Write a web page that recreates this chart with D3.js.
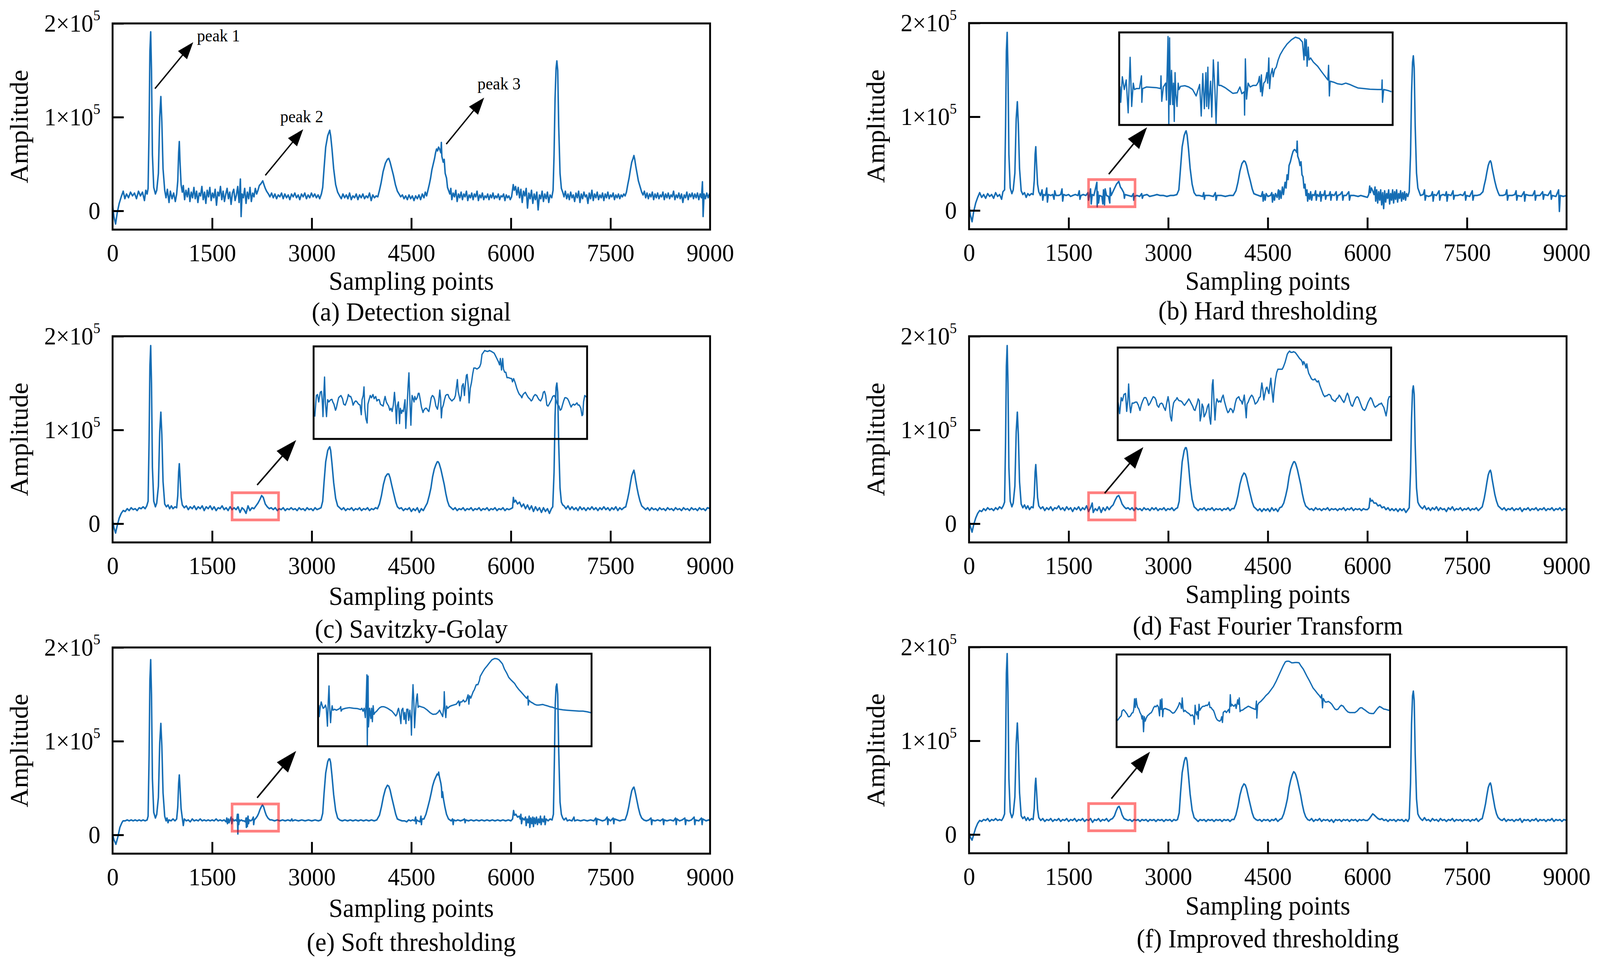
<!DOCTYPE html>
<html lang="en">
<head>
<meta charset="UTF-8">
<title>Denoising results</title>
<script src="https://cdnjs.cloudflare.com/ajax/libs/d3/7.8.5/d3.min.js"></script>
<style>
  html,body{margin:0;padding:0;width:100%;height:100%;overflow:hidden;background:#fff}
  svg{display:block;width:100vw;height:100vh}
  text{font-family:"Liberation Serif","Times New Roman",serif;fill:#000}
</style>
</head>
<body>
<svg id="fig" viewBox="0 0 4306 2466" preserveAspectRatio="none"></svg>
<script>
// amplitudes are in units of 1e3
var sampleTicks = [0,1500,3000,4500,6000,7500,9000];
var ampTicks = [0,100,200];
var ampLabels = [["0",""],["1\u00d710","5"],["2\u00d710","5"]];
var zoomWindow = [1800,2500];
var zoomRange = [4,33];
var captions = ["(a) Detection signal","(b) Hard thresholding","(c) Savitzky-Golay","(d) Fast Fourier Transform","(e) Soft thresholding","(f) Improved thresholding"];
var peakNames = ["peak 1","peak 2","peak 3"];

var detection = [[0,7],[20,-6],[45,-14],[70,-2],[100,8],[130,15],[160,21],[185,13],[210,18],[240,14],[270,20],[300,16],[330,19],[360,13],[390,21],[420,16],[450,20],[480,11],[500,22],[520,18],[535,24],[550,90],[562,170],[574,191],[586,150],[600,60],[620,25],[645,18],[665,22],[690,40],[710,100],[727,122],[742,95],[760,45],[785,22],[805,14],[825,23],[850,9],[870,21],[895,13],[920,19],[945,10],[965,18],[982,32],[995,62],[1005,74],[1016,52],[1032,28],[1050,20],[1065,27],[1085,12],[1105,22],[1125,15],[1145,24],[1165,10],[1185,20],[1205,14],[1225,25],[1245,13],[1265,21],[1285,9],[1305,19],[1325,16],[1345,26],[1365,12],[1385,20],[1405,8],[1425,22],[1445,15],[1465,25],[1485,11],[1505,19],[1525,14],[1545,23],[1565,6],[1585,20],[1605,16],[1625,26],[1645,12],[1665,21],[1685,10],[1705,18],[1725,24],[1745,13],[1765,20],[1785,7],[1805,19],[1825,23],[1845,11],[1865,17],[1885,26],[1905,9],[1925,34],[1936,-6],[1950,18],[1970,14],[1990,24],[2010,8],[2030,20],[2050,13],[2070,25],[2090,10],[2110,19],[2130,15],[2150,24],[2170,18],[2190,22],[2210,27],[2235,29],[2262,32],[2285,27],[2300,24],[2320,21],[2348,18],[2370,15],[2395,19],[2420,14],[2445,18],[2470,13],[2495,17],[2520,15],[2545,19],[2570,13],[2595,18],[2620,14],[2645,17],[2670,12],[2695,18],[2720,15],[2745,19],[2770,14],[2795,17],[2820,12],[2845,18],[2870,15],[2895,19],[2920,13],[2945,17],[2970,14],[2995,19],[3020,15],[3045,18],[3070,14],[3095,17],[3120,13],[3145,18],[3165,25],[3185,45],[3210,68],[3240,80],[3260,84],[3271,86],[3285,80],[3305,66],[3330,45],[3360,28],[3390,20],[3420,16],[3445,13],[3470,18],[3495,14],[3520,17],[3545,13],[3570,19],[3595,12],[3620,16],[3645,14],[3670,18],[3695,12],[3720,17],[3745,14],[3770,18],[3795,13],[3820,16],[3845,14],[3870,19],[3895,11],[3920,17],[3945,14],[3970,16],[3995,15],[4020,22],[4045,30],[4075,42],[4110,51],[4140,55],[4160,56],[4180,52],[4205,45],[4230,38],[4260,28],[4290,21],[4315,18],[4340,15],[4365,17],[4390,13],[4415,16],[4440,12],[4465,17],[4490,13],[4515,16],[4540,11],[4565,16],[4590,13],[4615,17],[4640,12],[4665,18],[4690,14],[4710,20],[4730,16],[4750,22],[4770,28],[4790,35],[4810,44],[4830,50],[4850,56],[4865,62],[4880,66],[4895,64],[4910,68],[4925,66],[4945,62],[4952,73],[4960,58],[4980,52],[4995,55],[5010,40],[5030,35],[5045,25],[5060,22],[5080,18],[5095,24],[5110,12],[5130,19],[5150,15],[5170,22],[5190,10],[5210,18],[5230,14],[5250,20],[5270,12],[5290,18],[5310,15],[5330,21],[5350,11],[5370,17],[5390,14],[5410,19],[5430,12],[5450,18],[5470,15],[5490,21],[5510,11],[5530,17],[5550,14],[5570,19],[5590,12],[5610,16],[5630,14],[5650,18],[5670,12],[5690,17],[5710,14],[5730,19],[5750,13],[5770,16],[5790,14],[5810,18],[5830,12],[5850,16],[5870,15],[5890,18],[5910,11],[5930,17],[5950,14],[5970,16],[5990,12],[6010,15],[6035,28],[6050,22],[6070,26],[6090,17],[6110,25],[6130,14],[6150,23],[6170,9],[6190,21],[6210,16],[6230,24],[6250,3],[6270,19],[6290,13],[6310,22],[6330,8],[6350,18],[6370,12],[6390,20],[6410,1],[6430,17],[6450,13],[6470,21],[6490,10],[6510,18],[6530,13],[6550,20],[6570,9],[6590,17],[6615,14],[6635,22],[6650,60],[6665,120],[6680,152],[6692,160],[6705,150],[6720,90],[6740,40],[6760,24],[6780,20],[6800,15],[6820,21],[6840,13],[6860,18],[6880,12],[6900,20],[6920,14],[6940,17],[6960,10],[6980,19],[7000,14],[7020,21],[7040,9],[7060,18],[7080,13],[7100,20],[7120,15],[7140,17],[7160,8],[7180,19],[7200,13],[7220,22],[7240,11],[7260,18],[7280,14],[7300,20],[7320,12],[7340,17],[7360,14],[7380,19],[7400,11],[7420,18],[7440,14],[7460,20],[7480,13],[7500,17],[7520,15],[7540,19],[7560,12],[7580,17],[7600,14],[7620,18],[7640,13],[7660,17],[7680,15],[7700,18],[7720,16],[7740,20],[7760,28],[7780,35],[7800,44],[7820,52],[7840,56],[7853,59],[7865,55],[7880,48],[7900,40],[7920,32],[7945,26],[7970,20],[7990,17],[8010,21],[8030,14],[8050,19],[8070,13],[8090,18],[8110,15],[8130,20],[8150,12],[8170,18],[8190,14],[8210,19],[8230,13],[8250,17],[8270,15],[8290,20],[8310,12],[8330,18],[8350,14],[8370,19],[8390,13],[8410,17],[8430,15],[8450,21],[8470,12],[8490,17],[8510,14],[8530,19],[8550,13],[8570,18],[8590,9],[8610,17],[8630,14],[8650,20],[8670,12],[8690,18],[8710,15],[8730,19],[8750,13],[8770,18],[8790,14],[8810,19],[8830,12],[8850,18],[8870,14],[8885,31],[8895,-6],[8910,18],[8930,13],[8950,19],[8970,14],[8990,18],[9000,16]];

var hardThr = [[0,6],[20,-5],[45,-12],[70,-1],[100,8],[130,14],[160,19],[190,14],[220,17],[250,13],[280,18],[310,15],[340,17],[370,13],[400,19],[430,15],[460,17],[490,12],[510,20],[535,22],[550,90],[562,170],[574,190],[586,150],[600,60],[620,24],[645,18],[665,22],[690,40],[710,98],[727,116],[742,92],[760,45],[785,21],[810,17],[835,19],[860,14],[885,18],[910,16],[940,18],[965,17],[982,32],[995,60],[1005,68],[1016,50],[1032,28],[1050,20],[1075,16],[1100,22],[1110,11],[1125,17],[1150,16],[1170,24],[1180,9],[1195,17],[1230,16],[1260,17],[1280,12],[1290,21],[1310,16],[1350,16],[1380,17],[1400,23],[1410,10],[1425,17],[1460,16],[1500,17],[1530,15],[1560,16],[1600,17],[1640,16],[1660,21],[1670,12],[1685,16],[1720,17],[1760,16],[1790,19],[1800,11],[1815,16],[1830,23],[1840,7],[1855,17],[1880,16],[1925,30],[1930,4],[1940,20],[1950,8],[1965,16],[2000,15],[2015,7],[2025,22],[2040,6],[2050,23],[2070,16],[2100,15],[2120,8],[2125,24],[2140,16],[2180,22],[2220,28],[2255,31],[2280,25],[2300,23],[2330,19],[2340,13],[2350,17],[2400,16],[2450,15],[2475,18],[2480,11],[2490,15],[2530,16],[2570,15],[2600,18],[2610,13],[2625,16],[2680,17],[2720,15],[2780,16],[2830,17],[2880,16],[2930,16],[2980,15],[3030,16],[3080,16],[3130,17],[3160,22],[3185,45],[3210,68],[3240,80],[3260,84],[3270,85],[3285,80],[3305,66],[3330,45],[3360,28],[3390,19],[3420,16],[3470,16],[3520,15],[3535,19],[3545,12],[3555,16],[3620,16],[3680,15],[3710,19],[3720,11],[3735,16],[3800,16],[3860,15],[3920,16],[3980,16],[4020,21],[4050,30],[4080,42],[4110,50],[4140,53],[4160,52],[4180,48],[4205,40],[4235,32],[4265,23],[4290,18],[4320,17],[4360,16],[4400,15],[4420,20],[4430,10],[4445,17],[4460,11],[4475,18],[4500,15],[4540,16],[4560,19],[4570,9],[4585,17],[4600,11],[4615,18],[4640,14],[4660,22],[4670,12],[4685,21],[4700,13],[4720,25],[4735,17],[4760,30],[4775,24],[4790,38],[4805,33],[4820,48],[4840,52],[4860,58],[4880,63],[4900,65],[4920,64],[4935,62],[4942,74],[4950,58],[4970,54],[4985,48],[5000,52],[5015,38],[5030,36],[5045,24],[5060,28],[5075,16],[5090,22],[5100,10],[5115,18],[5130,12],[5145,20],[5160,11],[5175,17],[5200,16],[5220,21],[5230,11],[5245,17],[5270,15],[5290,20],[5300,10],[5315,17],[5340,16],[5360,21],[5370,12],[5385,16],[5420,16],[5440,20],[5450,11],[5465,17],[5500,16],[5530,20],[5540,11],[5555,16],[5590,17],[5620,20],[5630,11],[5645,16],[5680,16],[5720,20],[5730,11],[5745,16],[5800,16],[5860,15],[5900,16],[5950,15],[6000,14],[6020,17],[6035,26],[6045,19],[6060,24],[6080,21],[6100,17],[6115,25],[6125,10],[6140,22],[6155,8],[6170,20],[6185,11],[6200,22],[6215,6],[6230,19],[6245,2],[6260,21],[6275,9],[6290,18],[6305,13],[6320,22],[6335,7],[6350,18],[6365,11],[6380,22],[6395,8],[6410,20],[6425,12],[6440,22],[6455,9],[6470,18],[6485,13],[6500,21],[6515,10],[6530,19],[6545,12],[6560,20],[6575,11],[6590,18],[6610,15],[6630,20],[6650,60],[6665,125],[6680,158],[6692,165],[6705,152],[6720,90],[6740,40],[6760,24],[6780,20],[6800,16],[6840,17],[6860,22],[6870,11],[6885,16],[6920,15],[6960,16],[6980,20],[6990,10],[7005,17],[7040,16],[7080,21],[7090,11],[7105,16],[7140,17],[7170,16],[7190,20],[7200,10],[7215,17],[7260,16],[7290,21],[7300,12],[7315,16],[7360,16],[7400,17],[7440,16],[7470,20],[7480,11],[7495,16],[7540,15],[7580,21],[7590,11],[7605,16],[7650,16],[7700,17],[7740,20],[7760,27],[7780,33],[7800,41],[7820,48],[7840,52],[7853,53],[7865,51],[7880,45],[7900,38],[7920,31],[7945,24],[7970,19],[7990,16],[8040,16],[8080,17],[8100,22],[8110,11],[8125,16],[8180,16],[8220,17],[8240,21],[8250,11],[8265,16],[8320,15],[8360,20],[8370,10],[8385,17],[8440,16],[8490,16],[8520,21],[8530,11],[8545,16],[8600,16],[8640,20],[8650,12],[8665,17],[8720,16],[8760,21],[8770,12],[8785,16],[8840,15],[8880,22],[8892,-1],[8905,16],[8950,15],[9000,16]];

var savGol = [[0,5],[20,-4],[45,-10],[70,-2],[100,6],[130,11],[160,14],[190,13],[220,16],[250,14],[280,17],[310,15],[340,16],[370,14],[400,17],[430,16],[460,18],[490,16],[515,19],[535,24],[550,90],[562,168],[574,190],[586,150],[600,60],[620,24],[645,18],[665,22],[690,40],[710,98],[727,119],[742,95],[760,45],[785,21],[810,18],[835,20],[860,16],[885,19],[910,16],[940,18],[965,17],[982,30],[995,55],[1005,64],[1016,50],[1032,28],[1050,20],[1080,17],[1110,19],[1140,15],[1170,18],[1200,16],[1230,19],[1260,15],[1290,18],[1320,16],[1350,19],[1380,14],[1410,18],[1440,16],[1470,19],[1500,15],[1530,18],[1560,14],[1590,17],[1620,16],[1650,19],[1680,15],[1710,17],[1740,14],[1770,18],[1800,15],[1830,17],[1860,15],[1890,18],[1920,12],[1950,17],[1980,15],[2010,11],[2040,19],[2070,14],[2100,17],[2130,16],[2160,19],[2190,22],[2220,26],[2245,30],[2270,28],[2300,21],[2330,18],[2360,16],[2390,17],[2420,15],[2450,17],[2480,14],[2510,16],[2540,15],[2570,17],[2600,14],[2630,16],[2660,15],[2690,17],[2720,15],[2750,16],[2780,14],[2810,17],[2840,15],[2870,16],[2900,14],[2930,17],[2960,15],[2990,16],[3020,14],[3050,17],[3080,15],[3110,16],[3140,17],[3165,24],[3185,44],[3210,66],[3240,78],[3260,81],[3272,82],[3285,78],[3305,64],[3330,44],[3360,27],[3390,19],[3420,17],[3450,15],[3480,17],[3510,14],[3540,16],[3570,15],[3600,17],[3630,14],[3660,16],[3690,15],[3720,17],[3750,14],[3780,16],[3810,15],[3840,17],[3870,14],[3900,16],[3930,15],[3960,17],[3990,16],[4020,21],[4050,30],[4080,42],[4110,50],[4140,53],[4160,53],[4180,49],[4205,41],[4235,32],[4265,23],[4290,18],[4320,16],[4350,17],[4380,14],[4410,16],[4440,15],[4470,17],[4500,13],[4530,16],[4560,14],[4590,17],[4620,12],[4650,16],[4680,14],[4710,18],[4740,22],[4770,30],[4795,38],[4820,50],[4845,58],[4870,63],[4890,66],[4905,66],[4920,64],[4945,58],[4970,50],[4995,42],[5020,32],[5045,24],[5070,19],[5100,17],[5130,15],[5160,17],[5190,14],[5220,16],[5250,15],[5280,17],[5310,14],[5340,16],[5370,15],[5400,17],[5430,14],[5460,16],[5490,15],[5520,17],[5550,14],[5580,16],[5610,15],[5640,17],[5670,14],[5700,16],[5730,15],[5760,17],[5790,14],[5820,16],[5850,15],[5880,17],[5910,14],[5940,16],[5970,15],[6000,16],[6025,17],[6037,28],[6050,23],[6070,25],[6100,21],[6130,23],[6160,18],[6190,21],[6220,16],[6250,20],[6280,15],[6310,19],[6340,13],[6370,18],[6400,14],[6430,17],[6460,12],[6490,17],[6520,13],[6550,16],[6580,11],[6610,16],[6630,18],[6650,55],[6665,115],[6680,145],[6692,150],[6705,140],[6720,85],[6740,38],[6760,23],[6780,20],[6800,19],[6830,16],[6860,19],[6890,15],[6920,18],[6950,15],[6980,17],[7010,14],[7040,18],[7070,15],[7100,17],[7130,14],[7160,17],[7190,15],[7220,18],[7250,15],[7280,17],[7310,14],[7340,17],[7370,15],[7400,18],[7430,15],[7460,17],[7490,14],[7520,17],[7550,15],[7580,18],[7610,14],[7640,17],[7670,15],[7700,17],[7730,18],[7760,27],[7780,34],[7800,43],[7820,51],[7840,55],[7853,57],[7865,53],[7880,46],[7900,38],[7920,31],[7945,24],[7970,19],[8000,17],[8030,15],[8060,17],[8090,14],[8120,17],[8150,15],[8180,16],[8210,14],[8240,17],[8270,15],[8300,16],[8330,14],[8360,17],[8390,15],[8420,16],[8450,14],[8480,17],[8510,15],[8540,16],[8570,14],[8600,17],[8630,15],[8660,16],[8690,14],[8720,17],[8750,15],[8780,16],[8810,14],[8840,17],[8870,15],[8900,16],[8930,14],[8960,17],[9000,16]];

var fft = [[0,4],[20,-3],[45,-9],[70,-1],[100,6],[130,11],[160,14],[190,13],[220,16],[250,14],[280,17],[310,15],[340,16],[370,14],[400,17],[430,15],[460,18],[490,16],[515,19],[535,23],[550,88],[562,168],[574,190],[586,150],[600,60],[620,24],[645,18],[665,22],[690,40],[710,98],[727,119],[742,95],[760,45],[785,21],[810,17],[835,20],[860,16],[885,19],[910,15],[940,18],[965,17],[982,30],[995,55],[1005,63],[1016,50],[1032,28],[1050,19],[1080,16],[1110,18],[1140,14],[1170,17],[1200,15],[1230,18],[1260,14],[1290,17],[1320,16],[1350,19],[1380,15],[1410,17],[1440,14],[1470,18],[1500,15],[1530,17],[1560,13],[1590,17],[1620,15],[1650,18],[1680,14],[1710,17],[1740,15],[1770,19],[1800,13],[1830,17],[1855,22],[1870,12],[1900,16],[1930,14],[1960,18],[1990,12],[2020,17],[2050,14],[2080,18],[2110,15],[2140,18],[2170,20],[2200,25],[2230,29],[2255,30],[2280,26],[2305,21],[2335,18],[2365,16],[2395,17],[2425,15],[2455,17],[2485,14],[2515,17],[2545,15],[2575,16],[2605,14],[2635,17],[2665,15],[2695,16],[2725,14],[2755,17],[2785,15],[2815,17],[2845,14],[2875,16],[2905,15],[2935,17],[2965,14],[2995,16],[3025,15],[3055,17],[3085,14],[3115,16],[3140,17],[3165,24],[3185,44],[3210,66],[3240,78],[3258,81],[3272,81],[3285,77],[3305,63],[3330,43],[3360,26],[3390,18],[3420,16],[3450,14],[3480,16],[3510,15],[3540,17],[3570,14],[3600,16],[3630,15],[3660,17],[3690,14],[3720,16],[3750,15],[3780,16],[3810,14],[3840,16],[3870,15],[3900,17],[3930,14],[3960,16],[3990,16],[4020,21],[4050,30],[4080,42],[4110,50],[4140,54],[4160,53],[4180,49],[4205,41],[4235,32],[4265,23],[4290,18],[4320,16],[4350,14],[4380,16],[4410,13],[4440,16],[4470,14],[4500,16],[4530,13],[4560,17],[4590,14],[4620,16],[4650,13],[4680,17],[4710,18],[4740,22],[4770,30],[4795,38],[4820,50],[4845,58],[4870,63],[4890,66],[4905,66],[4920,64],[4945,58],[4970,50],[4995,42],[5020,32],[5045,24],[5070,19],[5100,17],[5130,15],[5160,16],[5190,14],[5220,17],[5250,15],[5280,16],[5310,14],[5340,16],[5370,15],[5400,17],[5430,14],[5460,16],[5490,15],[5520,16],[5550,14],[5580,16],[5610,15],[5640,17],[5670,14],[5700,16],[5730,15],[5760,17],[5790,14],[5820,16],[5850,15],[5880,16],[5910,14],[5940,16],[5970,15],[6000,15],[6025,17],[6040,27],[6055,24],[6075,25],[6100,22],[6130,22],[6160,19],[6190,20],[6220,17],[6250,18],[6280,15],[6310,17],[6340,14],[6370,16],[6400,14],[6430,16],[6460,13],[6490,16],[6520,14],[6550,16],[6580,12],[6610,15],[6630,17],[6650,55],[6665,112],[6680,142],[6692,147],[6705,138],[6720,84],[6740,38],[6760,23],[6780,20],[6800,18],[6830,16],[6860,19],[6890,15],[6920,17],[6950,14],[6980,17],[7010,15],[7040,18],[7070,14],[7100,17],[7130,15],[7160,16],[7190,13],[7220,17],[7250,15],[7280,18],[7310,14],[7340,16],[7370,15],[7400,17],[7430,14],[7460,16],[7490,15],[7520,17],[7550,14],[7580,16],[7610,15],[7640,17],[7670,14],[7700,16],[7730,18],[7760,27],[7780,35],[7800,44],[7820,52],[7840,56],[7853,57],[7865,54],[7880,47],[7900,39],[7920,31],[7945,24],[7970,19],[8000,17],[8030,15],[8060,17],[8090,14],[8120,16],[8150,15],[8180,17],[8210,14],[8240,16],[8270,15],[8300,17],[8330,13],[8360,16],[8390,15],[8420,17],[8450,14],[8480,16],[8510,15],[8540,17],[8570,14],[8600,16],[8630,15],[8660,17],[8690,14],[8720,16],[8750,15],[8780,17],[8810,14],[8840,16],[8870,15],[8900,17],[8930,14],[8960,16],[9000,15]];

var softThr = [[0,1],[20,-5],[50,-10],[80,-2],[110,8],[140,13],[158,15],[190,15],[220,16],[250,15],[280,16],[310,15],[340,16],[370,15],[400,16],[430,15],[460,16],[490,15],[520,16],[535,20],[550,85],[562,165],[574,187],[586,150],[600,60],[620,24],[645,18],[665,22],[690,40],[710,98],[727,119],[742,95],[760,45],[785,20],[805,15],[820,18],[835,13],[850,16],[880,15],[910,17],[940,15],[965,17],[982,30],[995,55],[1005,64],[1016,50],[1032,28],[1050,18],[1065,10],[1080,17],[1110,15],[1140,16],[1170,14],[1200,17],[1230,15],[1260,16],[1290,15],[1320,17],[1350,15],[1380,16],[1410,15],[1440,16],[1470,15],[1500,16],[1530,15],[1560,17],[1590,15],[1620,16],[1650,15],[1680,16],[1710,14],[1720,18],[1730,12],[1745,17],[1755,13],[1770,16],[1785,19],[1795,12],[1810,17],[1830,15],[1850,16],[1870,15],[1880,22],[1887,1],[1893,22],[1900,11],[1910,16],[1920,15],[1940,16],[1960,15],[1980,15],[2000,14],[2010,18],[2015,8],[2025,18],[2030,9],[2040,20],[2048,12],[2058,16],[2080,15],[2100,16],[2120,19],[2125,11],[2135,16],[2160,18],[2180,20],[2200,23],[2220,27],[2240,30],[2258,32],[2275,30],[2295,25],[2315,21],[2340,18],[2370,16],[2400,16],[2440,15],[2480,16],[2520,15],[2560,16],[2600,15],[2640,16],[2680,15],[2700,17],[2710,15],[2750,16],[2800,15],[2850,16],[2900,15],[2950,16],[3000,15],[3050,16],[3100,15],[3140,16],[3165,23],[3185,44],[3210,66],[3240,78],[3258,81],[3272,81],[3285,77],[3305,63],[3330,43],[3360,26],[3390,18],[3420,16],[3460,15],[3500,16],[3540,15],[3580,16],[3620,15],[3660,16],[3700,15],[3740,16],[3780,15],[3820,16],[3860,15],[3900,16],[3940,15],[3980,16],[4020,21],[4050,30],[4080,41],[4110,49],[4140,53],[4160,52],[4180,48],[4205,40],[4235,31],[4265,22],[4290,17],[4320,16],[4360,15],[4400,15],[4430,14],[4460,16],[4490,15],[4520,16],[4550,15],[4565,19],[4572,12],[4580,16],[4600,15],[4630,14],[4645,20],[4652,11],[4660,17],[4690,17],[4720,22],[4750,30],[4775,37],[4800,45],[4820,52],[4845,58],[4870,62],[4890,65],[4905,64],[4912,67],[4920,63],[4945,55],[4955,50],[4960,40],[4970,46],[4985,38],[5005,30],[5030,22],[5060,17],[5100,15],[5120,17],[5130,11],[5140,16],[5170,15],[5200,16],[5240,15],[5280,16],[5300,17],[5310,13],[5320,16],[5360,15],[5400,16],[5440,15],[5480,16],[5520,15],[5560,16],[5600,15],[5640,16],[5680,15],[5720,16],[5760,15],[5800,16],[5840,15],[5880,16],[5920,15],[5960,16],[6000,15],[6025,17],[6040,26],[6055,21],[6075,22],[6100,19],[6125,20],[6140,17],[6150,22],[6160,12],[6175,18],[6200,16],[6220,19],[6230,10],[6245,17],[6260,13],[6275,20],[6285,8],[6300,18],[6315,12],[6330,19],[6340,9],[6355,18],[6370,12],[6385,19],[6400,11],[6415,17],[6430,13],[6445,20],[6455,11],[6470,17],[6490,14],[6505,20],[6515,11],[6530,17],[6560,15],[6590,17],[6620,16],[6640,22],[6655,80],[6668,140],[6680,158],[6692,161],[6705,150],[6720,90],[6740,35],[6760,22],[6780,18],[6800,16],[6830,18],[6850,15],[6880,16],[6920,15],[6950,19],[6960,15],[7000,16],[7050,15],[7100,16],[7150,15],[7200,16],[7250,15],[7280,18],[7290,11],[7300,17],[7340,16],[7380,15],[7420,16],[7450,19],[7460,11],[7470,17],[7500,15],[7540,18],[7550,12],[7560,17],[7600,16],[7640,15],[7680,16],[7720,16],[7750,22],[7775,30],[7800,40],[7820,47],[7840,50],[7853,51],[7865,48],[7880,43],[7900,36],[7920,29],[7945,22],[7970,18],[8000,16],[8040,15],[8080,16],[8110,18],[8120,11],[8130,16],[8170,15],[8210,16],[8250,15],[8290,17],[8300,11],[8310,16],[8350,15],[8400,16],[8450,15],[8480,18],[8490,11],[8500,17],[8540,15],[8580,16],[8620,18],[8630,11],[8640,16],[8680,15],[8720,16],[8760,19],[8770,11],[8780,16],[8830,15],[8870,18],[8880,11],[8890,17],[8940,15],[8980,16],[9000,15]];

var improvedThr = [[0,2],[20,-3],[45,-6],[70,0],[100,7],[130,12],[160,15],[190,14],[220,16],[250,15],[280,17],[310,14],[340,16],[370,15],[400,17],[430,15],[460,16],[490,15],[515,18],[535,22],[550,90],[562,172],[574,193],[586,152],[600,60],[620,24],[645,18],[665,22],[690,40],[710,97],[727,119],[742,95],[760,45],[785,20],[810,17],[835,19],[860,15],[885,18],[910,15],[940,17],[965,16],[982,28],[995,52],[1005,60],[1016,47],[1032,27],[1050,18],[1080,15],[1110,17],[1140,14],[1170,16],[1200,15],[1230,17],[1260,14],[1290,16],[1320,15],[1350,17],[1380,14],[1410,16],[1440,15],[1470,17],[1500,14],[1530,16],[1560,15],[1590,17],[1620,14],[1650,16],[1680,15],[1710,17],[1740,14],[1770,16],[1800,15],[1830,17],[1860,13],[1890,16],[1920,15],[1950,17],[1980,14],[2010,16],[2040,15],[2070,17],[2100,14],[2130,16],[2160,17],[2190,20],[2215,25],[2240,29],[2260,30],[2280,27],[2305,21],[2335,17],[2365,16],[2395,15],[2425,16],[2455,14],[2485,16],[2515,15],[2545,16],[2575,14],[2605,16],[2635,15],[2665,16],[2695,14],[2725,16],[2755,15],[2785,16],[2815,14],[2845,16],[2875,15],[2905,16],[2935,14],[2965,16],[2995,15],[3025,16],[3055,14],[3085,16],[3115,15],[3140,16],[3165,23],[3185,44],[3210,66],[3240,78],[3258,82],[3272,82],[3285,78],[3305,63],[3330,43],[3360,26],[3390,18],[3420,16],[3450,14],[3480,16],[3510,15],[3540,16],[3570,14],[3600,16],[3630,15],[3660,16],[3690,14],[3720,16],[3750,15],[3780,16],[3810,14],[3840,16],[3870,15],[3900,16],[3930,14],[3960,16],[3990,16],[4020,21],[4050,30],[4080,42],[4110,50],[4140,54],[4160,53],[4180,49],[4205,41],[4235,32],[4265,23],[4290,18],[4320,16],[4350,15],[4380,16],[4410,14],[4440,16],[4470,15],[4500,16],[4530,14],[4560,16],[4590,15],[4620,17],[4650,14],[4680,16],[4710,17],[4740,22],[4770,30],[4795,38],[4820,50],[4845,58],[4870,64],[4890,67],[4905,66],[4920,64],[4945,58],[4970,50],[4995,42],[5020,32],[5045,24],[5070,19],[5100,16],[5130,15],[5160,17],[5190,14],[5220,16],[5250,15],[5280,17],[5310,14],[5340,16],[5370,15],[5400,16],[5430,14],[5460,16],[5490,13],[5520,16],[5550,15],[5580,16],[5610,14],[5640,16],[5670,15],[5700,16],[5730,14],[5760,16],[5790,15],[5820,16],[5850,14],[5880,16],[5910,15],[5940,16],[5970,15],[6000,15],[6030,17],[6060,20],[6080,22],[6100,21],[6130,19],[6160,17],[6190,16],[6220,17],[6250,15],[6280,16],[6310,14],[6340,16],[6370,15],[6400,16],[6430,14],[6460,16],[6490,15],[6520,16],[6550,14],[6580,16],[6610,14],[6630,17],[6650,55],[6665,118],[6680,148],[6692,153],[6705,143],[6720,86],[6740,38],[6760,22],[6780,19],[6800,17],[6830,15],[6860,18],[6890,15],[6920,16],[6950,14],[6980,17],[7010,15],[7040,16],[7070,14],[7100,17],[7130,15],[7160,16],[7190,14],[7220,16],[7250,15],[7280,17],[7310,14],[7340,16],[7370,15],[7400,16],[7430,14],[7460,16],[7490,15],[7520,16],[7550,14],[7580,16],[7610,15],[7640,17],[7670,14],[7700,16],[7730,17],[7760,26],[7780,33],[7800,42],[7820,50],[7840,54],[7853,55],[7865,52],[7880,45],[7900,37],[7920,29],[7945,22],[7970,18],[8000,16],[8030,15],[8060,17],[8090,14],[8120,16],[8150,15],[8180,16],[8210,14],[8240,16],[8270,15],[8300,17],[8330,13],[8360,16],[8390,15],[8420,16],[8450,14],[8480,16],[8510,15],[8540,17],[8570,14],[8600,16],[8630,15],[8660,16],[8690,14],[8720,16],[8750,15],[8780,17],[8810,14],[8840,16],[8870,15],[8900,16],[8930,14],[8960,16],[9000,15]];

// close-ups of the 1800-2500 window
var hardZoom = [[1802,16.1],[1804,11.1],[1808,19.1],[1813,15.1],[1818,18.1],[1823,7.8],[1828,25.2],[1832,9.8],[1836,17.1],[1839,15.1],[1844,15.4],[1852,15.4],[1857,19.4],[1858,11.1],[1860,15.4],[1870,15.9],[1895,15.7],[1906,15.4],[1907,19.4],[1909,11.4],[1913,15.9],[1919,17.1],[1921,11.8],[1925,31.7],[1927,4.0],[1929,31.3],[1931,10.4],[1934,21.1],[1937,10.4],[1939,17.1],[1941,5.1],[1943,20.4],[1945,13.8],[1948,9.8],[1951,17.1],[1953,15.1],[1957,16.1],[1968,16.3],[1978,15.9],[1988,15.1],[1997,13.1],[2002,15.1],[2006,16.7],[2010,6.8],[2014,20.1],[2018,9.1],[2022,20.4],[2024,9.8],[2027,22.1],[2029,9.1],[2034,17.7],[2037,6.5],[2041,24.4],[2045,15.1],[2048,4.5],[2053,23.7],[2055,16.4],[2060,16.4],[2071,15.7],[2081,14.8],[2091,13.9],[2102,14.1],[2109,15.9],[2114,13.8],[2120,14.4],[2121,7.1],[2123,24.7],[2126,12.1],[2130,17.1],[2135,15.9],[2143,16.4],[2151,16.4],[2156,17.4],[2159,19.2],[2162,14.4],[2164,19.7],[2166,13.1],[2170,17.1],[2174,17.7],[2178,20.4],[2180,17.1],[2183,25.0],[2185,15.4],[2188,19.7],[2192,21.7],[2194,19.1],[2198,21.4],[2202,22.1],[2207,24.4],[2212,26.0],[2220,27.7],[2230,29.4],[2241,30.7],[2251,31.5],[2261,31.1],[2269,30.0],[2273,24.4],[2275,31.0],[2277,25.7],[2279,30.7],[2281,22.4],[2284,28.4],[2286,24.4],[2290,25.0],[2297,23.7],[2308,22.4],[2318,20.7],[2328,19.1],[2334,18.1],[2336,22.7],[2338,13.1],[2340,17.7],[2349,17.4],[2359,16.9],[2370,16.7],[2380,17.1],[2390,16.7],[2401,16.1],[2411,15.6],[2426,15.4],[2442,15.2],[2462,15.1],[2472,15.1],[2473,18.1],[2474,11.1],[2477,15.1],[2488,14.8],[2497,14.4]];

var savGolZoom = [[1803,11.0],[1807,17.6],[1810,17.9],[1813,15.6],[1817,18.6],[1820,18.9],[1822,16.3],[1824,11.0],[1826,17.6],[1828,23.4],[1830,15.6],[1833,11.0],[1836,16.3],[1839,15.6],[1841,15.9],[1844,16.3],[1847,16.4],[1849,15.6],[1852,14.9],[1856,13.0],[1858,13.6],[1861,15.3],[1864,16.9],[1867,17.3],[1870,17.6],[1874,16.6],[1877,14.9],[1881,14.6],[1886,16.3],[1889,17.9],[1892,17.3],[1895,17.3],[1898,16.3],[1901,14.6],[1905,15.6],[1908,15.9],[1911,15.6],[1915,14.9],[1919,14.6],[1922,11.6],[1924,16.3],[1927,17.6],[1929,20.3],[1931,13.6],[1934,10.3],[1937,9.0],[1939,14.9],[1942,16.3],[1945,17.6],[1948,16.9],[1952,17.9],[1955,16.6],[1959,17.3],[1962,15.9],[1965,16.3],[1968,16.3],[1971,14.9],[1974,14.6],[1978,14.3],[1981,16.3],[1983,17.3],[1986,15.6],[1989,14.9],[1992,14.3],[1995,13.0],[1998,13.6],[2001,12.6],[2004,14.6],[2007,18.6],[2009,15.6],[2012,8.8],[2014,14.3],[2017,15.6],[2020,8.8],[2022,13.6],[2025,12.0],[2027,13.0],[2030,12.6],[2032,14.6],[2034,16.3],[2036,7.3],[2039,13.6],[2042,20.9],[2044,24.7],[2046,17.6],[2049,8.3],[2052,17.6],[2054,16.9],[2057,15.6],[2059,17.3],[2062,16.3],[2065,16.9],[2068,18.3],[2070,18.3],[2073,16.3],[2076,14.0],[2080,12.3],[2082,13.0],[2086,13.6],[2089,13.6],[2092,13.0],[2095,12.6],[2098,14.6],[2101,16.9],[2104,17.6],[2107,17.3],[2110,16.3],[2113,14.3],[2117,13.3],[2120,15.6],[2123,19.3],[2125,16.9],[2127,10.6],[2129,13.6],[2132,14.6],[2135,16.3],[2138,17.6],[2141,17.9],[2144,17.9],[2147,16.9],[2151,16.3],[2154,15.9],[2157,16.3],[2160,16.6],[2163,17.6],[2166,20.6],[2168,22.6],[2170,18.9],[2173,17.3],[2175,15.9],[2178,17.6],[2180,20.6],[2183,21.3],[2186,17.6],[2188,20.6],[2191,23.9],[2193,24.2],[2196,20.3],[2198,15.3],[2201,19.9],[2204,21.6],[2207,24.2],[2210,26.2],[2214,26.2],[2218,25.9],[2222,26.2],[2225,26.6],[2228,27.6],[2231,30.5],[2235,31.2],[2238,31.7],[2242,31.5],[2246,31.4],[2250,31.7],[2254,31.5],[2258,31.2],[2262,30.9],[2265,30.2],[2269,29.2],[2273,28.2],[2276,27.2],[2278,29.2],[2281,25.6],[2284,29.2],[2286,25.9],[2289,24.9],[2292,24.9],[2295,23.2],[2299,23.2],[2303,23.0],[2307,22.9],[2309,21.9],[2312,22.9],[2316,21.6],[2320,19.9],[2324,18.6],[2327,17.9],[2330,17.6],[2333,16.9],[2336,17.9],[2339,18.3],[2342,18.6],[2345,17.9],[2350,16.9],[2353,16.6],[2357,15.9],[2360,16.3],[2363,17.3],[2367,17.9],[2371,17.6],[2374,16.9],[2377,16.3],[2381,15.9],[2385,16.9],[2388,18.6],[2391,18.9],[2394,17.6],[2397,14.6],[2400,14.3],[2403,14.9],[2406,15.6],[2409,16.3],[2412,17.3],[2416,17.6],[2419,16.9],[2422,15.6],[2425,14.6],[2428,14.3],[2431,13.0],[2434,13.3],[2437,14.6],[2440,15.9],[2443,16.9],[2446,16.9],[2450,16.6],[2453,15.9],[2456,14.9],[2459,14.0],[2462,14.6],[2465,14.9],[2468,14.6],[2471,14.9],[2474,15.3],[2477,14.6],[2480,14.6],[2484,13.6],[2487,11.3],[2489,11.6],[2491,15.6],[2494,17.6],[2497,17.3],[2500,16.9]];

var fftZoom = [[1801,15.9],[1805,12.3],[1809,17.3],[1812,16.3],[1816,18.3],[1820,18.6],[1823,13.0],[1826,16.6],[1828,21.6],[1831,14.9],[1833,12.6],[1837,15.6],[1841,15.6],[1845,15.9],[1849,15.9],[1853,14.9],[1857,13.3],[1860,14.9],[1864,16.3],[1868,17.3],[1872,17.3],[1876,16.3],[1879,14.9],[1883,15.6],[1888,16.9],[1891,17.6],[1895,17.3],[1898,16.6],[1901,14.9],[1905,14.3],[1908,15.3],[1912,15.6],[1915,15.3],[1918,14.3],[1922,13.3],[1926,15.9],[1929,17.6],[1932,15.3],[1935,11.3],[1938,10.0],[1940,13.3],[1943,15.6],[1946,16.3],[1949,16.6],[1952,17.3],[1955,16.6],[1958,16.3],[1961,16.3],[1965,15.9],[1968,15.3],[1971,14.9],[1975,15.6],[1979,16.3],[1982,16.9],[1985,16.3],[1989,15.3],[1992,14.6],[1995,13.6],[1998,13.3],[2001,14.6],[2003,15.3],[2006,16.9],[2009,16.3],[2011,10.0],[2014,12.0],[2016,15.3],[2019,14.3],[2021,11.3],[2024,12.0],[2027,13.0],[2030,14.6],[2033,15.3],[2035,11.3],[2038,9.0],[2040,13.9],[2042,21.3],[2044,22.9],[2046,17.3],[2049,10.3],[2052,15.6],[2054,16.9],[2058,15.9],[2061,16.3],[2064,15.9],[2067,17.3],[2070,18.1],[2073,16.3],[2076,14.9],[2079,13.6],[2082,12.6],[2085,13.0],[2088,13.9],[2092,13.6],[2095,12.6],[2098,13.6],[2101,15.6],[2104,16.9],[2107,17.3],[2110,17.6],[2113,16.6],[2116,16.3],[2119,15.3],[2122,16.9],[2124,18.1],[2127,13.9],[2129,11.0],[2131,15.3],[2134,15.9],[2137,16.9],[2140,17.6],[2143,18.1],[2146,17.6],[2149,16.6],[2152,15.3],[2155,15.6],[2159,16.3],[2162,17.3],[2165,17.6],[2167,19.9],[2169,21.9],[2172,19.3],[2174,16.6],[2177,18.6],[2180,20.3],[2182,20.6],[2185,19.3],[2187,18.6],[2190,21.6],[2192,23.4],[2195,19.3],[2198,15.9],[2200,19.3],[2204,23.2],[2207,25.2],[2210,26.2],[2213,26.2],[2217,26.2],[2221,26.2],[2224,26.9],[2228,28.2],[2231,29.5],[2234,30.9],[2237,31.5],[2240,31.9],[2243,31.5],[2247,31.5],[2250,31.7],[2254,31.5],[2258,30.9],[2262,30.2],[2266,29.5],[2269,29.2],[2272,28.6],[2274,27.6],[2276,28.6],[2279,27.9],[2282,26.6],[2284,27.9],[2287,25.9],[2289,24.9],[2292,24.2],[2296,23.2],[2299,22.9],[2302,22.9],[2305,23.2],[2308,22.6],[2311,22.2],[2314,22.6],[2317,21.3],[2320,20.3],[2323,19.3],[2326,18.3],[2330,17.6],[2333,17.9],[2336,17.9],[2339,18.3],[2342,18.3],[2345,17.9],[2348,16.9],[2351,16.6],[2354,16.3],[2357,16.1],[2360,16.9],[2364,17.3],[2367,18.1],[2370,17.6],[2373,16.9],[2376,16.3],[2379,15.8],[2382,16.6],[2385,17.9],[2388,18.7],[2391,17.9],[2394,16.3],[2398,14.9],[2401,14.6],[2404,15.6],[2407,16.6],[2410,17.3],[2413,17.6],[2416,17.3],[2419,16.3],[2422,15.3],[2425,14.3],[2428,13.6],[2432,13.3],[2435,13.9],[2438,14.9],[2441,15.9],[2444,16.6],[2447,17.3],[2450,16.9],[2453,15.9],[2456,14.9],[2459,14.3],[2462,14.6],[2466,14.9],[2469,15.3],[2472,15.3],[2475,15.6],[2478,14.9],[2481,14.3],[2484,13.0],[2487,11.6],[2490,13.9],[2492,16.6],[2495,17.6],[2498,17.6]];

var softZoom = [[1802,16.9],[1803,13.3],[1806,16.6],[1808,17.9],[1811,16.6],[1813,15.9],[1816,16.2],[1819,16.9],[1821,15.9],[1824,10.3],[1826,17.9],[1828,22.9],[1830,15.3],[1832,11.4],[1834,15.0],[1836,16.7],[1838,15.3],[1842,15.6],[1847,15.3],[1852,15.6],[1856,15.9],[1858,16.4],[1859,15.0],[1862,15.6],[1870,15.9],[1880,16.1],[1891,15.9],[1901,15.8],[1909,15.5],[1912,15.9],[1915,15.0],[1918,15.9],[1921,13.0],[1923,17.9],[1925,26.4],[1926,4.0],[1928,26.0],[1929,10.1],[1932,15.9],[1935,12.7],[1937,15.9],[1939,11.7],[1941,16.7],[1943,14.0],[1946,14.6],[1950,15.0],[1954,15.6],[1958,16.1],[1963,16.4],[1968,16.4],[1973,16.2],[1978,15.9],[1984,15.4],[1989,15.0],[1994,14.3],[1999,13.5],[2002,14.1],[2004,15.3],[2006,15.9],[2009,14.0],[2012,11.1],[2014,15.3],[2017,15.9],[2020,12.4],[2022,14.6],[2025,11.1],[2027,15.6],[2030,15.6],[2032,12.1],[2035,15.3],[2038,11.7],[2039,7.5],[2041,17.9],[2043,23.3],[2045,18.5],[2047,9.8],[2050,15.9],[2052,19.0],[2054,20.4],[2056,16.2],[2059,16.6],[2063,16.4],[2071,16.1],[2079,15.4],[2087,14.5],[2094,14.0],[2102,14.1],[2107,14.6],[2111,15.3],[2115,14.3],[2119,13.3],[2122,16.6],[2123,21.1],[2125,15.3],[2127,13.0],[2129,16.6],[2132,15.9],[2136,16.4],[2141,16.7],[2146,16.9],[2154,17.2],[2158,17.9],[2160,18.2],[2162,16.7],[2164,17.9],[2168,17.9],[2172,18.5],[2175,17.9],[2179,18.2],[2184,20.1],[2186,17.2],[2188,19.8],[2191,19.1],[2194,20.1],[2197,21.1],[2200,21.7],[2203,22.7],[2205,23.3],[2209,23.3],[2213,24.6],[2215,25.9],[2221,27.2],[2226,28.2],[2232,29.1],[2239,30.2],[2245,31.1],[2252,31.5],[2258,31.4],[2263,31.1],[2268,30.4],[2272,29.8],[2277,28.2],[2283,26.9],[2288,25.6],[2293,24.9],[2298,24.3],[2303,23.7],[2308,22.7],[2313,21.9],[2319,21.1],[2324,20.4],[2329,19.7],[2334,19.0],[2337,19.7],[2338,16.9],[2340,18.4],[2344,17.9],[2350,17.5],[2355,17.1],[2360,16.9],[2365,16.9],[2370,17.0],[2375,17.1],[2380,16.9],[2386,16.7],[2393,16.4],[2401,16.2],[2409,15.8],[2417,15.6],[2427,15.4],[2437,15.3],[2447,15.2],[2458,15.1],[2468,15.0],[2478,15.0],[2489,14.8],[2499,14.5]];

var improvedZoom = [[1802,12.3],[1805,12.8],[1808,13.3],[1812,13.8],[1814,15.3],[1818,15.7],[1821,15.3],[1824,14.8],[1827,14.3],[1830,13.5],[1833,13.5],[1836,13.9],[1839,14.6],[1842,14.8],[1844,15.8],[1846,19.1],[1848,16.4],[1850,19.2],[1852,17.4],[1854,16.4],[1857,15.9],[1860,14.8],[1863,14.1],[1865,12.8],[1867,13.8],[1869,8.8],[1871,13.5],[1873,12.1],[1876,13.1],[1879,13.8],[1882,14.1],[1885,14.5],[1889,14.8],[1892,15.5],[1895,16.4],[1898,16.8],[1901,16.6],[1904,17.1],[1907,16.6],[1910,13.8],[1912,18.8],[1914,15.8],[1916,19.1],[1918,13.5],[1920,15.9],[1924,16.1],[1928,15.9],[1932,15.7],[1936,15.5],[1940,15.0],[1944,14.6],[1948,14.8],[1952,15.5],[1955,16.1],[1959,17.1],[1961,17.9],[1964,17.4],[1966,16.1],[1968,19.4],[1970,16.1],[1972,15.1],[1975,15.5],[1978,15.1],[1981,14.8],[1984,14.6],[1987,14.3],[1990,13.8],[1994,14.1],[1997,13.5],[1999,11.1],[2001,17.1],[2003,14.8],[2005,14.1],[2007,15.1],[2009,12.8],[2011,17.4],[2013,15.5],[2016,16.1],[2019,16.6],[2022,16.8],[2025,16.8],[2029,17.1],[2032,17.0],[2035,17.4],[2037,18.1],[2039,16.4],[2042,16.4],[2045,15.8],[2048,15.5],[2051,14.5],[2054,13.3],[2057,12.6],[2060,12.3],[2064,12.1],[2067,12.5],[2069,13.5],[2071,11.7],[2073,14.8],[2075,15.1],[2078,15.3],[2081,14.8],[2084,15.3],[2087,15.8],[2089,14.8],[2091,20.4],[2093,16.8],[2095,17.4],[2097,17.1],[2100,16.8],[2102,17.0],[2104,17.4],[2106,16.1],[2108,17.4],[2110,18.8],[2112,17.4],[2114,19.4],[2116,15.1],[2118,15.5],[2121,15.5],[2124,15.7],[2128,16.1],[2132,16.4],[2137,16.8],[2141,16.6],[2145,16.3],[2149,16.1],[2153,15.9],[2156,15.8],[2158,18.4],[2159,13.1],[2161,17.1],[2164,17.8],[2170,18.4],[2176,19.2],[2182,20.1],[2189,20.9],[2195,21.9],[2201,22.9],[2208,24.5],[2215,26.4],[2221,28.0],[2227,29.6],[2232,30.7],[2236,30.9],[2241,30.9],[2244,30.7],[2248,30.4],[2252,30.4],[2257,30.5],[2262,30.5],[2267,30.4],[2272,29.4],[2278,28.4],[2283,27.2],[2288,26.0],[2293,24.9],[2298,23.7],[2303,22.5],[2309,21.6],[2314,20.8],[2319,20.1],[2323,19.4],[2325,20.4],[2327,16.3],[2329,19.2],[2331,18.8],[2334,18.1],[2338,18.1],[2342,18.3],[2347,17.9],[2351,17.4],[2355,16.6],[2359,15.9],[2363,15.7],[2367,15.9],[2371,16.6],[2375,17.1],[2380,16.8],[2384,16.1],[2388,15.5],[2392,15.0],[2397,14.8],[2404,14.8],[2410,14.8],[2416,15.3],[2420,15.9],[2424,16.3],[2428,16.3],[2432,15.9],[2437,15.5],[2442,15.0],[2447,14.6],[2453,14.5],[2458,14.5],[2463,15.3],[2468,16.1],[2473,16.7],[2478,16.4],[2484,15.9],[2489,15.8],[2494,15.6],[2498,15.5]];

// ---- layout (pixels of the 4306 x 2466 figure) ----
var W = 1608, H = 528, IW = 736, IH = 237;
var blue = "#156db4";
var panels = [
  {x:303,  y:60,   data:detection,   cap:0, labelDy:682, capDy:761},
  {x:2608, y:59,   data:hardThr,     cap:1, labelDy:683, capDy:759, zoom:hardZoom,     inset:[404,24], arrow:[376,387,479,267]},
  {x:303,  y:861,  data:savGol,      cap:2, labelDy:688, capDy:772, zoom:savGolZoom,   inset:[541,26], arrow:[389,381,494,266]},
  {x:2608, y:861,  data:fft,         cap:3, labelDy:683, capDy:764, zoom:fftZoom,      inset:[400,29], arrow:[365,402,469,284]},
  {x:303,  y:1658, data:softThr,     cap:4, labelDy:690, capDy:777, zoom:softZoom,     inset:[553,16], arrow:[389,385,494,265]},
  {x:2608, y:1657, data:improvedThr, cap:5, labelDy:685, capDy:769, zoom:improvedZoom, inset:[397,19], arrow:[383,388,487,268]}
];
var peakNotes = [
  {arrow:[114,167,217,48],  text:[227,46]},
  {arrow:[411,389,513,271], text:[451,253]},
  {arrow:[898,309,1000,190],text:[982,169]}
];

var svg = d3.select("#fig");
svg.append("rect").attr("width",4306).attr("height",2466).attr("fill","#fff");

var x = d3.scaleLinear().domain([0,9000]).range([0,W]);
var y = d3.scaleLinear().domain([-20,200]).range([H,0]);
var line = d3.line().x(function(d){return x(d[0]);}).y(function(d){return y(d[1]);});

var ix = d3.scaleLinear().domain(zoomWindow).range([0,IW]);
var iy = d3.scaleLinear().domain(zoomRange).range([IH,0]);
var iline = d3.line().x(function(d){return ix(d[0]);}).y(function(d){return iy(d[1]);});

function drawArrow(g, a, len, half, w){
  var ang = Math.atan2(a[3]-a[1], a[2]-a[0]);
  var bx = a[2]-len*Math.cos(ang), by = a[3]-len*Math.sin(ang);
  g.append("line").attr("x1",a[0]).attr("y1",a[1]).attr("x2",bx+2*Math.cos(ang)).attr("y2",by+2*Math.sin(ang))
    .attr("stroke","#000").attr("stroke-width",w);
  g.append("path")
    .attr("d","M"+a[2]+","+a[3]+"L"+(bx+half*Math.sin(ang))+","+(by-half*Math.cos(ang))+"L"+(bx-half*Math.sin(ang))+","+(by+half*Math.cos(ang))+"Z")
    .attr("fill","#000");
}

panels.forEach(function(p, i){
  var g = svg.append("g").attr("transform","translate("+p.x+","+p.y+")");

  g.append("clipPath").attr("id","clip"+i).append("rect").attr("width",W).attr("height",H);
  g.append("path").datum(p.data).attr("d",line).attr("fill","none")
    .attr("stroke",blue).attr("stroke-width",4).attr("stroke-linejoin","round")
    .attr("clip-path","url(#clip"+i+")");

  // axes
  var xa = g.append("g").attr("transform","translate(0,"+H+")")
    .call(d3.axisBottom(x).tickValues(sampleTicks).tickFormat(d3.format("d"))
      .tickSizeInner(-30).tickSizeOuter(0).tickPadding(36));
  var ya = g.append("g")
    .call(d3.axisLeft(y).tickValues(ampTicks).tickSizeInner(-30).tickSizeOuter(0).tickPadding(33));
  [xa, ya].forEach(function(a){
    a.select(".domain").remove();
    a.selectAll(".tick line").attr("stroke","#000").attr("stroke-width",5);
    a.selectAll("text").attr("font-size",64).attr("fill","#000")
      .style("font-family",'"Liberation Serif","Times New Roman",serif');
  });
  xa.selectAll(".tick").filter(function(d){return d===0||d===9000;}).select("line").remove();
  ya.selectAll(".tick text").each(function(d){
    var lab = ampLabels[ampTicks.indexOf(d)];
    var t = d3.select(this).text(null);
    t.append("tspan").text(lab[0]);
    if (lab[1]) t.append("tspan").attr("dy",-29).attr("font-size",38).text(lab[1]);
  });

  g.append("rect").attr("width",W).attr("height",H).attr("fill","none")
    .attr("stroke","#000").attr("stroke-width",5);

  g.append("text").attr("x",W/2).attr("y",p.labelDy).attr("text-anchor","middle")
    .attr("font-size",68).text("Sampling points");
  g.append("text").attr("transform","translate(-228,"+(H/2)+") rotate(-90)")
    .attr("text-anchor","middle").attr("font-size",68).text("Amplitude");
  g.append("text").attr("x",W/2).attr("y",p.capDy).attr("text-anchor","middle")
    .attr("font-size",68).text(captions[p.cap]);

  if (p.zoom){
    g.append("rect").attr("x",x(zoomWindow[0])).attr("y",y(zoomRange[1]))
      .attr("width",x(zoomWindow[1])-x(zoomWindow[0])).attr("height",y(zoomRange[0])-y(zoomRange[1]))
      .attr("fill","none").attr("stroke","#ff0000").attr("stroke-opacity",0.5).attr("stroke-width",7);

    var ig = g.append("g").attr("transform","translate("+p.inset[0]+","+p.inset[1]+")");
    ig.append("clipPath").attr("id","iclip"+i).append("rect").attr("width",IW).attr("height",IH);
    ig.append("path").datum(p.zoom).attr("d",iline).attr("fill","none")
      .attr("stroke",blue).attr("stroke-width",3.5).attr("stroke-linejoin","round")
      .attr("clip-path","url(#iclip"+i+")");
    ig.append("rect").attr("width",IW).attr("height",IH).attr("fill","none")
      .attr("stroke","#000").attr("stroke-width",5);

    drawArrow(g, p.arrow, 56, 20, 4);
  } else {
    peakNotes.forEach(function(n, k){
      drawArrow(g, n.arrow, 44, 16, 3.5);
      g.append("text").attr("x",n.text[0]).attr("y",n.text[1]).attr("font-size",44).text(peakNames[k]);
    });
  }
});
</script>
</body>
</html>
